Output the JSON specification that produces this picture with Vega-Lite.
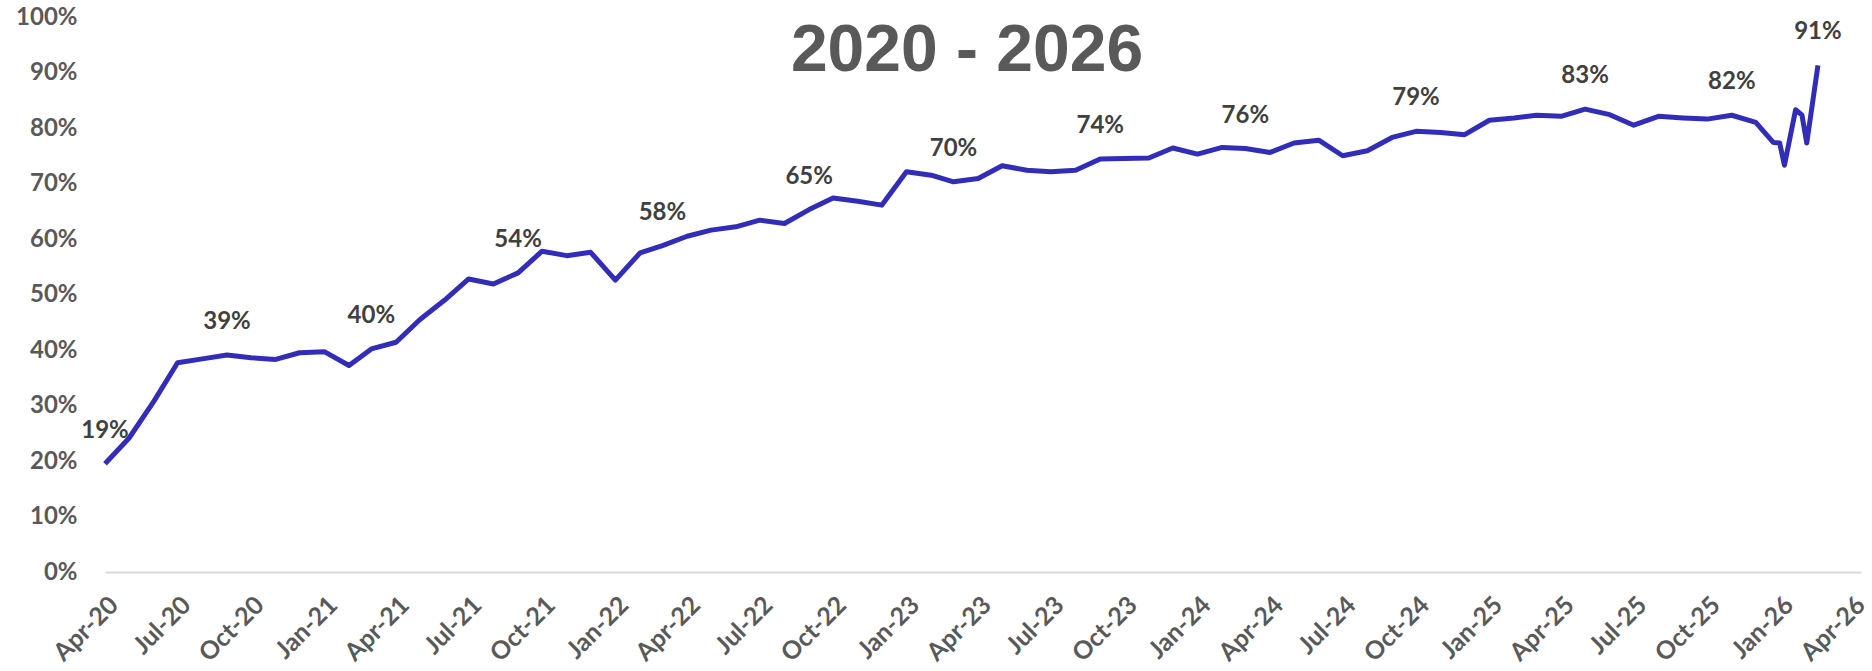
{
  "$schema": "https://vega.github.io/schema/vega-lite/v6.json",
  "autosize": {"type": "none"},
  "width": 1756,
  "height": 555,
  "padding": {"left": 105, "top": 17, "right": 11, "bottom": 99},
  "background": "#ffffff",
  "config": {"view": {"stroke": null}},
  "datasets": {
    "series": [
      {"date": "2020-04-01", "v": 0.195, "label": "19%"},
      {"date": "2020-05-01", "v": 0.241},
      {"date": "2020-06-01", "v": 0.307},
      {"date": "2020-07-01", "v": 0.377},
      {"date": "2020-08-01", "v": 0.384},
      {"date": "2020-09-01", "v": 0.391, "label": "39%"},
      {"date": "2020-10-01", "v": 0.386},
      {"date": "2020-11-01", "v": 0.383},
      {"date": "2020-12-01", "v": 0.395},
      {"date": "2021-01-01", "v": 0.397},
      {"date": "2021-02-01", "v": 0.372},
      {"date": "2021-03-01", "v": 0.402, "label": "40%"},
      {"date": "2021-04-01", "v": 0.414},
      {"date": "2021-05-01", "v": 0.455},
      {"date": "2021-06-01", "v": 0.49},
      {"date": "2021-07-01", "v": 0.528},
      {"date": "2021-08-01", "v": 0.519},
      {"date": "2021-09-01", "v": 0.539, "label": "54%"},
      {"date": "2021-10-01", "v": 0.578},
      {"date": "2021-11-01", "v": 0.57},
      {"date": "2021-12-01", "v": 0.576},
      {"date": "2022-01-01", "v": 0.526},
      {"date": "2022-02-01", "v": 0.575},
      {"date": "2022-03-01", "v": 0.588, "label": "58%"},
      {"date": "2022-04-01", "v": 0.605},
      {"date": "2022-05-01", "v": 0.616},
      {"date": "2022-06-01", "v": 0.622},
      {"date": "2022-07-01", "v": 0.634},
      {"date": "2022-08-01", "v": 0.628},
      {"date": "2022-09-01", "v": 0.653, "label": "65%"},
      {"date": "2022-10-01", "v": 0.674},
      {"date": "2022-11-01", "v": 0.668},
      {"date": "2022-12-01", "v": 0.661},
      {"date": "2023-01-01", "v": 0.721},
      {"date": "2023-02-01", "v": 0.715},
      {"date": "2023-03-01", "v": 0.703, "label": "70%"},
      {"date": "2023-04-01", "v": 0.709},
      {"date": "2023-05-01", "v": 0.732},
      {"date": "2023-06-01", "v": 0.724},
      {"date": "2023-07-01", "v": 0.721},
      {"date": "2023-08-01", "v": 0.724},
      {"date": "2023-09-01", "v": 0.744, "label": "74%"},
      {"date": "2023-10-01", "v": 0.745},
      {"date": "2023-11-01", "v": 0.746},
      {"date": "2023-12-01", "v": 0.764},
      {"date": "2024-01-01", "v": 0.753},
      {"date": "2024-02-01", "v": 0.765},
      {"date": "2024-03-01", "v": 0.763, "label": "76%"},
      {"date": "2024-04-01", "v": 0.756},
      {"date": "2024-05-01", "v": 0.773},
      {"date": "2024-06-01", "v": 0.778},
      {"date": "2024-07-01", "v": 0.75},
      {"date": "2024-08-01", "v": 0.759},
      {"date": "2024-09-01", "v": 0.783},
      {"date": "2024-10-01", "v": 0.794, "label": "79%"},
      {"date": "2024-11-01", "v": 0.792},
      {"date": "2024-12-01", "v": 0.788},
      {"date": "2025-01-01", "v": 0.814},
      {"date": "2025-02-01", "v": 0.818},
      {"date": "2025-03-01", "v": 0.823},
      {"date": "2025-04-01", "v": 0.821},
      {"date": "2025-05-01", "v": 0.834, "label": "83%"},
      {"date": "2025-06-01", "v": 0.824},
      {"date": "2025-07-01", "v": 0.805},
      {"date": "2025-08-01", "v": 0.821},
      {"date": "2025-09-01", "v": 0.818},
      {"date": "2025-10-01", "v": 0.816},
      {"date": "2025-11-01", "v": 0.823, "label": "82%"},
      {"date": "2025-12-01", "v": 0.81},
      {"date": "2025-12-23", "v": 0.774},
      {"date": "2025-12-31", "v": 0.773},
      {"date": "2026-01-06", "v": 0.733},
      {"date": "2026-01-20", "v": 0.833},
      {"date": "2026-01-28", "v": 0.823},
      {"date": "2026-02-03", "v": 0.773},
      {"date": "2026-02-17", "v": 0.913, "label": "91%"}
    ],
    "heading": [
      {"heading": "2020 - 2026"}
    ]
  },
  "data": {"name": "series"},
  "layer": [
    {
      "mark": {"type": "line", "color": "#322DB8", "strokeWidth": 5, "strokeJoin": "round", "strokeCap": "butt"},
      "encoding": {
        "x": {
          "field": "date",
          "type": "temporal",
          "scale": {"type": "utc", "domain": ["2020-04-01", "2026-04-12"], "nice": false},
          "axis": {
            "title": null,
            "format": "%b-%y",
            "tickCount": {"interval": "month", "step": 3},
            "grid": false,
            "ticks": false,
            "tickSize": 0,
            "domain": true,
            "domainColor": "#d9d9d9",
            "domainWidth": 2,
            "labelAngle": -45,
            "labelAlign": "right",
            "labelBaseline": "top",
            "labelPadding": 20,
            "labelFont": "Lato",
            "labelFontSize": 25,
            "labelFontWeight": "bold",
            "labelColor": "#595959",
            "labelOverlap": false,
            "labelFlush": false,
            "labelBound": false
          }
        },
        "y": {
          "field": "v",
          "type": "quantitative",
          "scale": {"domain": [0, 1], "nice": false, "zero": true},
          "axis": {
            "title": null,
            "format": ".0%",
            "values": [0, 0.1, 0.2, 0.3, 0.4, 0.5, 0.6, 0.7, 0.8, 0.9, 1],
            "grid": false,
            "ticks": false,
            "tickSize": 0,
            "domain": false,
            "labelPadding": 28,
            "labelFont": "Lato",
            "labelFontSize": 24,
            "labelFontWeight": "bold",
            "labelColor": "#595959",
            "labelOverlap": false,
            "labelFlush": false,
            "labelBound": false
          }
        }
      }
    },
    {
      "transform": [{"filter": "isValid(datum.label)"}],
      "mark": {"type": "text", "font": "Lato", "fontSize": 24, "fontWeight": "bold", "color": "#404040", "align": "center", "baseline": "middle", "dy": -33},
      "encoding": {
        "x": {"field": "date", "type": "temporal"},
        "y": {"field": "v", "type": "quantitative"},
        "text": {"field": "label", "type": "nominal"}
      }
    },
    {
      "data": {"name": "heading"},
      "mark": {"type": "text", "font": "Liberation Sans", "fontSize": 66, "fontWeight": "bold", "color": "#595959", "align": "center", "baseline": "alphabetic"},
      "encoding": {
        "x": {"datum": 1679097600000, "type": "temporal"},
        "y": {"datum": 0.9027, "type": "quantitative"},
        "text": {"field": "heading", "type": "nominal"}
      }
    }
  ]
}
